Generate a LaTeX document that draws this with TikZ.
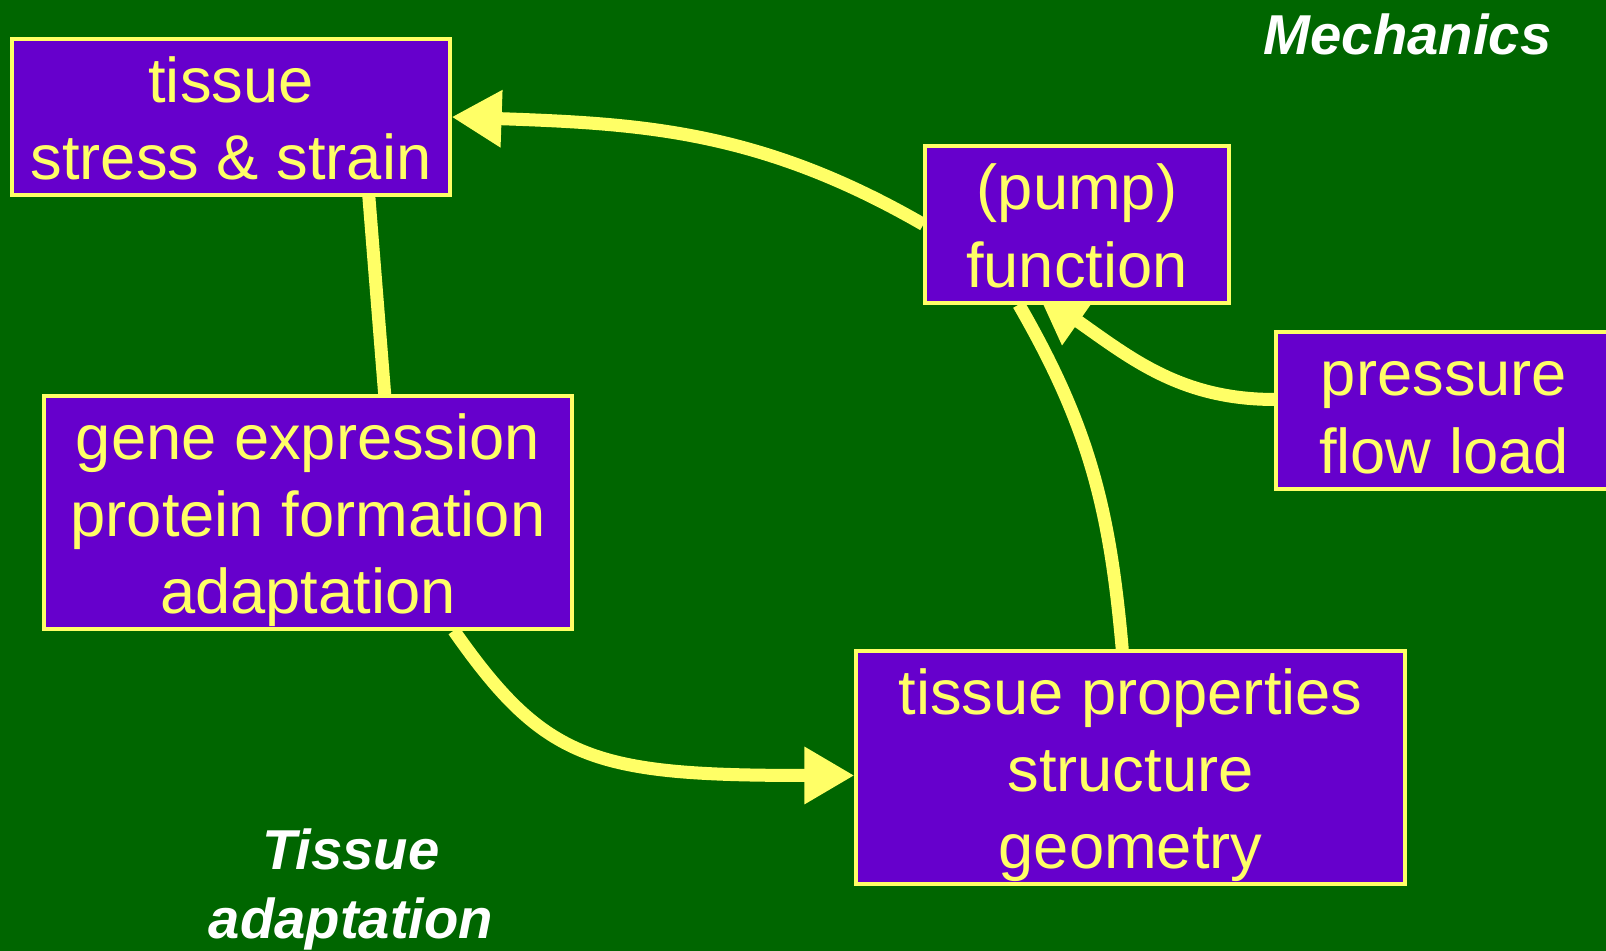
\documentclass[tikz,border=0pt]{standalone}
\usepackage{fontspec}
\setmainfont{Liberation Sans}
\usetikzlibrary{arrows.meta}
\definecolor{slidegreen}{HTML}{006600}
\definecolor{boxpurple}{HTML}{6600CC}
\definecolor{lineyellow}{HTML}{FFFF66}
\newcommand{\boxstrut}{\rule[-3.8pt]{0pt}{21.3pt}}
\pgfdeclarelayer{bg}
\pgfdeclarelayer{links}
\pgfsetlayers{bg,links,main}

\begin{document}
\begin{tikzpicture}[
    box/.style={draw=lineyellow, line width=0.9pt, fill=boxpurple, text=lineyellow, align=center, inner sep=0pt, font=\fontsize{18}{22}\selectfont},
    link/.style={line width=0.13cm, color=lineyellow},
    arrow/.style={link, -{Triangle[length=0.5cm, width=0.54cm]}},
    caption/.style={text=white, align=center, font=\fontsize{16}{19.5}\selectfont\bfseries\itshape},
]
\useasboundingbox (0,0) rectangle (16.06,9.51);
\begin{pgfonlayer}{bg}
\fill[slidegreen] (0,0) rectangle (16.06,9.51);
\end{pgfonlayer}

\node[box, minimum width=4.38cm, minimum height=1.56cm] (stress) at (2.31,8.34) {\boxstrut tissue\\stress \& strain\boxstrut};
\node[box, minimum width=3.04cm, minimum height=1.57cm] (pump) at (10.77,7.265) {\boxstrut(pump)\\function\boxstrut};
\node[box, minimum width=3.36cm, minimum height=1.57cm] (pressure) at (14.44,5.405) {\boxstrut pressure\\flow load\boxstrut};
\node[box, minimum width=5.28cm, minimum height=2.33cm] (gene) at (3.08,4.385) {\boxstrut gene expression\\protein formation\\adaptation\boxstrut};
\node[box, minimum width=5.49cm, minimum height=2.33cm] (props) at (11.305,1.835) {\boxstrut tissue properties\\structure\\geometry\boxstrut};

\node[caption] (mech) at (14.075,9.17) {Mechanics};
\node[caption] (adapt) at (3.51,0.615) {Tissue\\adaptation};

\begin{pgfonlayer}{links}
\draw[arrow] (pump.west) to[out=150, in=-2] (stress.east);
\draw[link] (stress.-30) -- (gene.57);
\draw[arrow] (gene.-39) .. controls +(-55:1.6) and +(-2.6,0) .. ([yshift=-0.08cm]props.west);
\draw[link] (props.94) to[out=95, in=-60] (pump.-126);
\draw[arrow, shorten >=-0.2cm] ([yshift=0.11cm]pressure.west) to[out=180, in=-35] (pump.-106);
\end{pgfonlayer}
\end{tikzpicture}
\end{document}
